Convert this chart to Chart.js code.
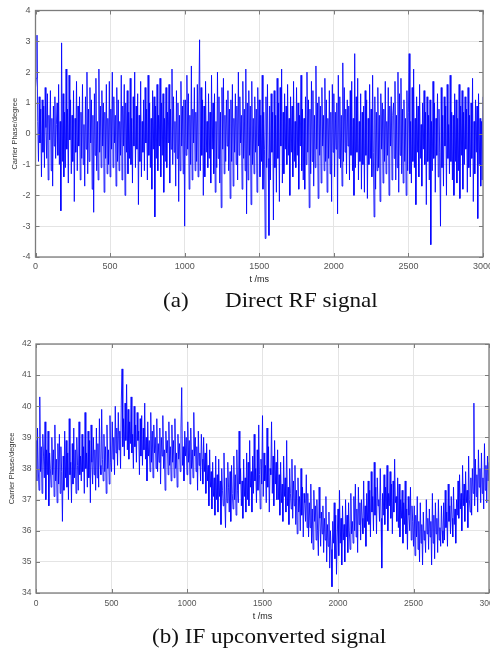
<!DOCTYPE html>
<html>
<head>
<meta charset="utf-8">
<script src="https://cdn.jsdelivr.net/npm/chart.js@4.4.1/dist/chart.umd.min.js"></script>
<style>
  html, body { margin: 0; padding: 0; background: #fff; }
  body { width: 490px; height: 652px; overflow: hidden; position: relative; }
  .painel { position: absolute; left: 0; width: 530px; height: 292px; }
  .legenda { position: absolute; font-family: "Liberation Serif", "Times New Roman", serif; font-size: 21px; color: #111; white-space: nowrap; line-height: 1; transform: scaleX(1.1); transform-origin: 0 0; }
</style>
</head>
<body>
<div class="painel" style="top:0"><canvas id="graficoA" width="530" height="292"></canvas></div>
<div class="legenda" style="top:290px;left:163px">(a)</div>
<div class="legenda" style="top:290px;left:225px">Direct RF signal</div>
<div class="painel" style="top:334px"><canvas id="graficoB" width="530" height="292"></canvas></div>
<div class="legenda" style="top:626px;left:152px">(b) IF upconverted signal</div>
<script>

// passo de amostragem (ms) e ticks
const passoMs = 5;
const ticksTempo = [0, 500, 1000, 1500, 2000, 2500, 3000];
const ticksFaseA = [-4, -3, -2, -1, 0, 1, 2, 3, 4];
const ticksFaseB = [34, 35, 36, 37, 38, 39, 40, 41, 42];

// (a) Direct RF signal - fase da portadora (graus), uma linha = 100 ms
const faseRF = [
  1.5, 1.8, 3.2, 0.4, -0.9, 1.2, -0.3, 0.8, -1.4, 1.1, -0.6, 0.9, -1.1, 1.5, 0.2, -0.8, 1.3, -1.5, 0.6, -0.2,
  1.4, -1.2, 0.5, -1.7, 0.9, -0.4, 1.2, -0.8, 0.3, 1.0, -0.7, 1.6, -1.0, 0.4, -2.5, 2.95, -0.9, 1.3, -1.4, 0.7,
  -1.1, 2.1, -0.5, 0.8, -1.6, 1.9, -0.2, 1.1, -1.3, 0.6, -0.9, 1.4, -2.2, 0.5, -0.6, 1.7, -1.2, 0.9, -0.4, 1.2,
  -1.5, 0.7, -0.8, 1.6, -1.0, 0.3, -1.7, 1.2, -0.5, 2.0, -1.3, 0.8, -0.9, 1.5, -0.3, 1.1, -1.8, 0.6, -2.55, 1.3,
  -0.7, 1.8, -1.2, 0.4, -1.5, 2.1, -0.6, 0.9, -1.1, 1.4, -0.4, 1.0, -1.9, 0.7, -0.8, 1.6, -1.3, 0.5, -1.0, 1.7,
  -1.4, 0.8, -0.5, 2.0, -1.1, 1.2, -0.3, 0.6, -1.7, 1.5, -0.9, 1.1, -1.2, 0.4, -0.7, 1.9, -1.5, 0.9, -0.4, 1.6,
  -2.0, 1.0, -0.6, 1.4, -1.3, 0.7, -0.8, 1.8, -1.0, 0.5, -1.6, 1.2, -0.4, 2.0, -1.1, 0.9, -0.5, 1.3, -2.3, 0.6,
  -0.9, 1.7, -1.4, 0.4, -0.6, 1.1, -1.2, 1.5, -0.3, 0.8, -1.5, 1.9, -0.7, 1.0, -1.1, 0.5, -1.8, 1.4, -0.5, 1.2,
  -2.7, 0.9, -0.8, 1.6, -1.2, 0.6, -0.4, 1.8, -1.4, 1.0, -0.7, 1.3, -1.9, 0.5, -0.9, 1.5, -1.1, 0.7, -0.3, 1.6,
  -1.6, 0.8, -0.5, 2.1, -1.0, 1.2, -0.6, 0.4, -1.7, 1.4, -0.8, 1.0, -2.2, 0.6, -1.2, 1.7, -0.4, 0.9, -1.3, 1.1,
  -3.0, 1.1, -0.7, 1.9, -0.5, 1.3, -1.8, 0.6, -1.0, 2.2, -1.5, 0.8, -0.3, 1.5, -1.2, 0.7, -0.9, 1.6, -1.4, 0.9,
  3.05, -1.2, 1.5, -0.7, 1.1, -2.0, 0.9, -1.4, 1.7, -0.6, 0.4, -1.1, 1.3, -0.8, 0.7, -1.6, 1.9, -0.5, 1.0, -1.3,
  1.3, -1.9, 0.4, -1.1, 2.0, -0.8, 1.2, -1.6, 0.7, -2.4, 1.5, -0.5, 1.8, -1.3, 0.6, -0.9, 1.1, -0.4, 1.4, -1.2,
  0.8, -2.1, 1.1, -0.9, 1.6, -1.7, 0.5, -0.6, 1.3, -1.0, 0.9, -1.5, 2.0, -0.7, 1.2, -0.3, 0.6, -1.8, 1.7, -0.8,
  0.8, -1.2, 2.1, -2.6, 1.0, -1.5, 1.4, -0.7, 0.9, -2.3, 1.7, -1.0, 0.5, -1.3, 1.2, -0.6, 0.8, -1.9, 1.5, -0.4,
  1.1, -1.4, 0.6, -0.9, 1.9, -1.8, 0.7, -0.5, -3.4, 1.2, -1.1, 1.6, -0.8, -3.3, 0.9, -1.5, 1.3, -0.6, 0.7, -2.8,
  1.4, -1.1, 0.6, -1.9, 1.8, -0.8, 1.0, -2.2, 1.5, -0.4, 2.1, -1.6, 0.7, -1.3, 1.3, -0.5, 0.9, -1.0, 1.6, -0.7,
  0.5, -2.0, 1.2, -0.6, 0.9, -1.4, 1.7, -0.9, 0.4, -1.1, 1.5, -0.7, 1.0, -1.8, 0.6, -0.4, 1.9, -1.2, 0.8, -1.5,
  0.5, -1.8, 1.2, -1.0, 2.0, -0.6, 1.1, -2.4, 0.8, -1.3, 1.7, -0.9, 1.4, -1.7, 0.6, -1.1, 2.2, -0.5, 1.0, -2.1,
  1.2, -0.7, 0.9, -1.6, 1.5, -0.4, 0.6, -1.2, 1.8, -0.9, 1.1, -1.9, 0.5, -0.8, 1.4, -1.3, 0.7, -2.2, 1.6, -0.6,
  1.3, -1.4, 0.7, -0.5, 1.0, -2.6, 1.9, -0.8, 1.2, -1.1, 0.6, -1.7, 2.3, -0.9, 1.5, -0.6, 0.8, -1.3, 1.1, -0.4,
  0.9, -1.5, 1.4, -0.7, 1.7, -1.2, 0.5, -2.0, 2.6, -1.1, 1.2, -0.6, 1.8, -1.5, 0.4, -0.9, 1.3, -1.8, 0.7, -1.0,
  0.9, -1.9, 1.4, -0.7, 1.1, -2.1, 0.5, -1.0, 1.6, -0.8, 0.8, -1.4, 1.9, -0.6, -2.7, 1.2, -1.8, 0.7, -1.2, 1.5,
  -1.1, 0.6, -2.2, 1.3, -0.5, 1.0, -1.6, 0.8, -0.9, 1.7, -1.3, 0.4, -0.7, 1.5, -2.0, 0.9, -0.4, 1.2, -1.5, 0.6,
  1.0, -0.8, 1.7, -1.5, 0.6, -1.1, 2.0, -1.9, 1.3, -0.7, 1.8, -1.3, 0.8, -1.6, 1.1, -0.9, 0.5, -2.0, 1.4, -1.2,
  0.7, 2.6, -1.3, 0.4, -1.6, 1.5, -0.9, 2.1, -1.1, 0.5, -2.3, 1.2, -0.6, 0.9, -1.4, 1.6, -0.8, 0.3, -1.7, 1.0,
  -0.5, 1.4, -1.0, 0.7, -2.3, 1.2, -0.9, 0.6, -1.5, 1.1, -3.6, 0.4, -1.2, 1.7, -0.8, 1.0, -1.9, 0.5, -0.7, 1.3,
  -1.4, 0.8, -0.6, -3.0, 1.5, -1.1, 0.6, -1.7, 1.2, -0.4, 0.9, -2.0, 1.6, -0.8, 0.3, -1.3, 1.9, -0.9, 0.7, -1.5,
  0.6, -2.0, 1.3, -0.9, 1.1, -1.6, 0.5, -1.2, 1.6, -2.1, 0.9, -0.7, 1.4, -1.8, 0.7, -1.0, 1.2, -0.5, 0.8, -1.9,
  1.5, -1.1, 0.6, -1.4, 1.0, -0.8, 1.8, -2.2, 0.4, -1.3, 1.1, -0.6, 0.9, -2.75, 1.3, -1.0, 0.5, -1.7, 0.4, -1.5,
  1.2
];

// (b) IF upconverted signal - fase da portadora (graus), uma linha = 100 ms
const faseIF = [
  38.9, 37.6, 39.3, 38.0, 37.3, 40.3, 37.9, 38.7, 37.2, 39.1, 38.4, 37.7, 39.5, 37.0, 38.6, 37.8, 39.2, 36.8, 38.5, 38.0,
  37.4, 39.0, 37.8, 38.6, 37.1, 39.4, 37.6, 38.3, 36.9, 38.8, 37.5, 39.1, 37.2, 38.7, 37.9, 36.3, 38.4, 37.3, 39.2, 37.7,
  38.9, 37.4, 38.5, 37.0, 39.6, 37.8, 38.2, 36.9, 38.8, 37.5, 39.3, 37.7, 38.6, 37.2, 39.0, 38.1, 37.3, 39.5, 37.8, 38.4,
  37.6, 39.1, 37.9, 38.7, 37.2, 39.8, 38.0, 38.5, 37.4, 39.2, 37.7, 38.9, 36.9, 39.4, 38.2, 37.5, 39.0, 37.8, 38.6, 37.3,
  39.3, 37.7, 38.8, 37.4, 39.6, 38.1, 37.8, 39.9, 38.3, 37.6, 39.1, 37.9, 38.7, 37.2, 39.4, 38.0, 38.6, 37.5, 39.7, 38.2,
  37.9, 39.5, 38.3, 39.0, 37.8, 40.0, 38.5, 39.3, 38.1, 39.8, 38.6, 39.2, 38.0, 40.2, 41.2, 38.7, 39.6, 38.4, 40.1, 38.9,
  40.7, 38.6, 39.9, 38.3, 39.5, 38.8, 40.3, 38.5, 39.1, 38.0, 40.0, 38.7, 39.4, 38.2, 39.8, 38.9, 39.2, 37.8, 39.6, 38.4,
  39.7, 38.1, 39.3, 38.6, 40.1, 38.3, 39.0, 37.6, 39.5, 38.4, 38.9, 37.9, 39.8, 38.2, 39.2, 37.7, 39.4, 38.5, 39.0, 38.0,
  39.6, 37.9, 38.8, 38.2, 39.3, 37.5, 39.0, 38.4, 39.7, 38.0, 38.6, 37.3, 39.2, 38.5, 38.9, 37.8, 39.5, 38.1, 38.7, 37.6,
  39.4, 38.2, 38.9, 37.7, 39.6, 38.0, 38.5, 37.4, 39.1, 38.3, 38.8, 37.9, 39.3, 40.6, 38.1, 38.7, 37.6, 39.2, 38.4, 39.0,
  37.8, 39.5, 38.2, 38.9, 37.5, 39.3, 38.0, 38.6, 37.7, 39.8, 38.4, 39.0, 37.9, 38.7, 37.3, 39.2, 38.1, 38.5, 37.6, 39.1,
  38.3, 37.5, 39.0, 37.9, 38.5, 37.2, 38.8, 37.6, 38.1, 36.8, 38.6, 37.4, 37.9, 36.7, 38.2, 37.1, 37.7, 36.5, 38.4, 37.0,
  37.8, 36.6, 38.3, 37.1, 37.6, 36.2, 38.0, 37.3, 36.8, 38.5, 37.0, 36.1, 37.7, 36.9, 38.2, 37.4, 36.6, 37.9, 36.3, 38.1,
  37.2, 36.7, 38.4, 37.0, 37.8, 36.5, 38.6, 37.3, 36.9, 39.2, 37.5, 38.0, 36.8, 37.6, 36.4, 38.3, 37.1, 37.7, 36.6, 38.5,
  37.0, 38.2, 36.8, 38.9, 37.4, 37.9, 36.6, 38.4, 37.2, 39.1, 37.6, 38.0, 36.9, 38.6, 37.3, 39.4, 37.8, 36.7, 38.3, 37.5,
  39.7, 37.1, 38.5, 37.6, 38.1, 36.9, 39.3, 37.4, 38.7, 36.6, 38.0, 37.8, 39.5, 37.2, 38.4, 36.8, 38.9, 37.5, 38.2, 37.0,
  38.6, 37.0, 37.8, 36.5, 38.2, 36.9, 37.5, 36.3, 38.4, 37.1, 37.7, 36.6, 38.9, 36.8, 37.4, 36.2, 38.0, 37.2, 36.7, 38.3,
  36.4, 37.6, 36.8, 38.1, 36.2, 37.3, 35.9, 37.7, 36.6, 37.1, 36.0, 38.0, 36.5, 37.4, 35.8, 37.2, 36.9, 36.3, 37.8, 36.1,
  37.2, 35.8, 36.9, 36.1, 37.5, 35.6, 36.7, 35.4, 37.3, 36.3, 36.8, 35.7, 37.0, 36.0, 35.2, 37.4, 36.4, 35.5, 36.6, 35.9,
  36.8, 35.3, 36.4, 35.7, 37.1, 35.0, 36.2, 35.5, 36.6, 34.8, 36.0, 35.4, 34.2, 36.3, 35.6, 36.9, 35.1, 36.5, 34.6, 35.8,
  36.7, 35.2, 37.3, 35.6, 36.4, 34.9, 36.8, 35.7, 36.2, 35.0, 37.0, 35.8, 36.5, 35.3, 36.9, 36.0, 35.4, 37.2, 35.9, 36.3,
  35.6, 37.1, 36.0, 37.5, 35.8, 36.7, 35.3, 37.4, 36.2, 36.9, 35.7, 37.0, 36.4, 35.9, 37.6, 36.1, 36.8, 35.5, 37.2, 36.3,
  37.6, 36.2, 37.3, 35.8, 37.9, 36.6, 37.1, 36.0, 38.2, 36.5, 37.4, 35.9, 37.7, 36.8, 37.0, 36.3, 38.0, 36.4, 34.8, 37.2,
  36.5, 37.8, 36.2, 37.4, 36.7, 38.1, 36.0, 37.2, 36.8, 37.9, 36.4, 37.5, 35.9, 37.6, 36.6, 38.3, 36.9, 37.1, 36.3, 37.7,
  36.1, 37.5, 35.8, 37.0, 36.4, 37.3, 35.6, 36.9, 36.2, 37.6, 35.9, 36.7, 35.4, 37.1, 36.5, 36.0, 37.4, 35.7, 36.8, 36.3,
  35.5, 36.8, 35.2, 36.5, 35.8, 37.1, 35.4, 36.3, 35.0, 36.9, 35.6, 36.2, 34.9, 36.6, 35.7, 36.0, 35.3, 37.0, 35.9, 36.4,
  35.4, 36.7, 35.8, 36.3, 34.9, 37.2, 35.6, 36.5, 35.1, 36.9, 35.9, 36.4, 35.3, 37.0, 35.7, 36.1, 35.5, 36.8, 36.0, 35.6,
  36.9, 35.7, 37.3, 36.1, 36.6, 35.5, 37.5, 36.3, 36.8, 35.9, 37.1, 36.4, 35.8, 37.4, 36.2, 36.7, 35.6, 37.0, 36.5, 37.6,
  36.4, 37.8, 36.7, 37.2, 36.0, 38.1, 36.8, 37.5, 36.3, 37.9, 36.9, 37.3, 36.1, 38.4, 37.0, 36.6, 37.7, 36.5, 38.0, 37.2,
  40.1, 36.8, 38.3, 37.1, 37.8, 36.6, 38.6, 37.4, 38.0, 36.9, 38.5, 37.2, 37.7, 36.7, 38.8, 37.3, 38.1, 36.9, 38.4, 37.6,
  38.2
];

///------------------------- moldura estilo MATLAB (caixa + ticks para dentro) -------------------------

const moldura = {
  id: 'moldura',
  afterDraw(chart) {
    const { ctx, chartArea: a, scales } = chart;
    ctx.save();
    ctx.strokeStyle = '#7c7c7c';
    ctx.lineWidth = 1;
    ctx.beginPath();
    for (const t of scales.x.ticks) {
      const px = Math.round(scales.x.getPixelForValue(t.value)) + 0.5;
      ctx.moveTo(px, a.bottom); ctx.lineTo(px, a.bottom - 4);
      ctx.moveTo(px, a.top); ctx.lineTo(px, a.top + 4);
    }
    for (const t of scales.y.ticks) {
      const py = Math.round(scales.y.getPixelForValue(t.value)) + 0.5;
      ctx.moveTo(a.left, py); ctx.lineTo(a.left + 4, py);
      ctx.moveTo(a.right, py); ctx.lineTo(a.right - 4, py);
    }
    ctx.stroke();
    ctx.lineWidth = 1.3;
    ctx.strokeRect(a.left, a.top, a.right - a.left, a.bottom - a.top);
    ctx.restore();
  }
};

function montarGrafico(id, valores, ticksY, cfg) {
  const pontos = valores.map((v, i) => ({ x: i * passoMs, y: v }));
  const ctx = document.getElementById(id).getContext('2d');

  return new Chart(ctx, {
    type: 'line',
    data: {
      datasets: [{
        data: pontos,
        borderColor: 'rgba(0, 0, 255, 0.85)',
        borderWidth: 1,
        pointRadius: 0,
        tension: 0,
        fill: false
      }]
    },
    options: {
      responsive: false,
      animation: false,
      events: [],
      layout: { padding: { top: cfg.topo, right: cfg.direita, bottom: 0, left: 0 } },
      plugins: { legend: { display: false }, tooltip: { enabled: false } },
      scales: {
        x: {
          type: 'linear',
          min: 0,
          max: 3000,
          afterBuildTicks: (s) => { s.ticks = ticksTempo.map(v => ({ value: v })); },
          afterFit: (s) => { s.height = cfg.alturaX; },
          grid: { color: '#e4e4e4', lineWidth: 1, drawTicks: false },
          border: { display: false },
          ticks: { padding: cfg.padTickX, color: '#555', maxRotation: 0, callback: (v) => String(v),
                   font: { family: 'Liberation Sans, Arial', size: cfg.fonteTick } },
          title: { display: true, text: 't /ms', color: '#222', padding: { top: 0, bottom: cfg.padTituloX },
                   font: { family: 'Liberation Sans, Arial', size: 9 } }
        },
        y: {
          min: ticksY[0],
          max: ticksY[ticksY.length - 1],
          afterBuildTicks: (s) => { s.ticks = ticksY.map(v => ({ value: v })); },
          afterFit: (s) => { s.width = cfg.larguraY; },
          grid: { color: '#e4e4e4', lineWidth: 1, drawTicks: false },
          border: { display: false },
          ticks: { padding: cfg.padTickY, color: '#555', callback: (v) => String(v),
                   font: { family: 'Liberation Sans, Arial', size: cfg.fonteTick } },
          title: { display: true, text: 'Carrier Phase/degree', color: '#333', padding: { top: cfg.padTituloY, bottom: 0 },
                   font: { family: 'Liberation Sans, Arial', size: 7.5 } }
        }
      }
    },
    plugins: [moldura]
  });
}

document.addEventListener('DOMContentLoaded', () => {
  montarGrafico('graficoA', faseRF, ticksFaseA, {
    topo: 10.5, direita: 47, alturaX: 35, larguraY: 35.5,
    padTickX: 4.5, padTituloX: 7, padTickY: 5, padTituloY: 10, fonteTick: 9
  });
  montarGrafico('graficoB', faseIF, ticksFaseB, {
    topo: 10, direita: 41, alturaX: 33, larguraY: 36,
    padTickX: 6, padTituloX: 4, padTickY: 4.5, padTituloY: 7.5, fonteTick: 8.5
  });
});
</script>
</body>
</html>
